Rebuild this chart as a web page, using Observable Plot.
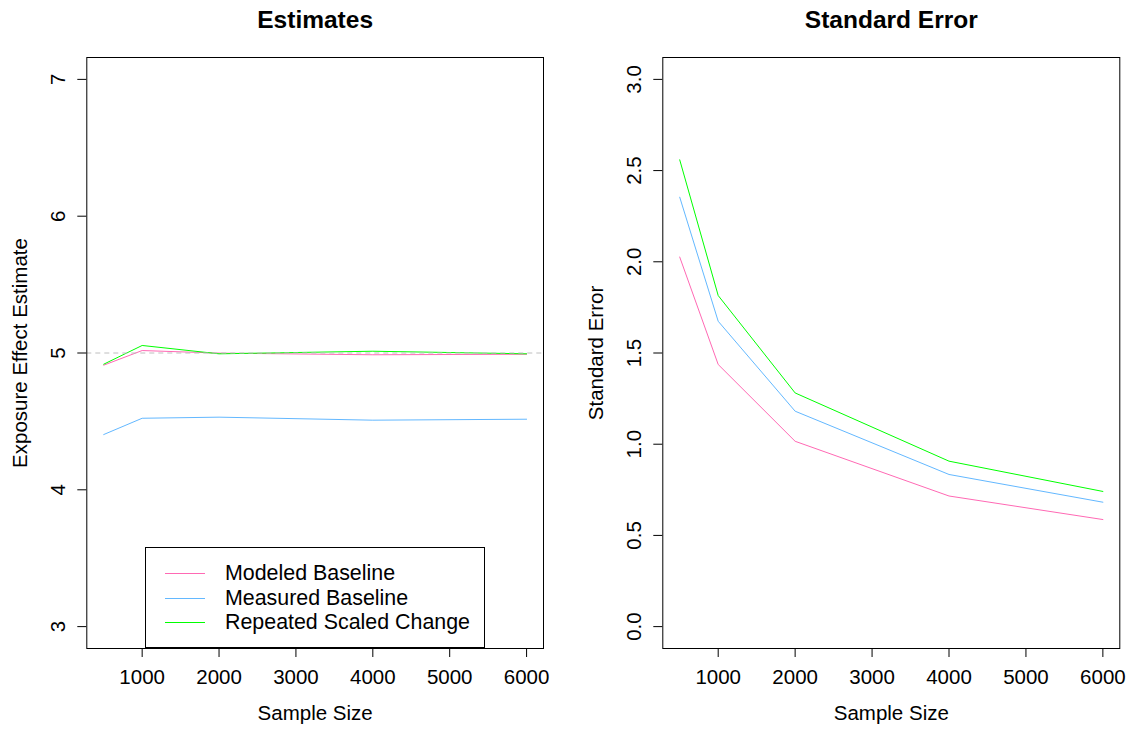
<!DOCTYPE html>
<html>
<head>
<meta charset="utf-8">
<script src="https://cdn.jsdelivr.net/npm/d3@7"></script>
<script src="https://cdn.jsdelivr.net/npm/@observablehq/plot@0.6"></script>
<style>
  body { margin: 0; background: white; }
  #wrap { position: relative; width: 1135px; height: 730px; font-family: "Liberation Sans", Arial, Helvetica, sans-serif; }
  #left, #right { position: absolute; top: 0; }
  #left { left: 0; }
  #right { left: 567px; }
  #legend { position: absolute; left: 145px; top: 547px; width: 340px; height: 101px; border: 1px solid black; background: white; box-sizing: border-box; }
  .row { position: absolute; left: 0; height: 25px; width: 100%; }
  .sw { position: absolute; left: 19px; width: 40px; top: 12px; border-top: 1px solid; }
  .lab { position: absolute; left: 79px; top: 0; font-size: 21.4px; line-height: 25px; color: black; white-space: nowrap; }
</style>
</head>
<body>
<div id="wrap">
  <div id="left"></div>
  <div id="right"></div>
  <div id="legend"></div>
</div>
<script>
const sampleSizes = [500, 1000, 2000, 4000, 6000];
const seriesNames = ["Modeled Baseline", "Measured Baseline", "Repeated Scaled Change"];
const seriesColors = ["#FF69B4", "#63B8FF", "#00FF00"];
const estModeled  = [4.911, 5.018, 4.999, 4.987, 4.991];
const estMeasured = [4.404, 4.523, 4.531, 4.509, 4.516];
const estRepeated = [4.918, 5.055, 4.994, 5.013, 4.994];
const seModeled   = [2.026, 1.437, 1.016, 0.716, 0.587];
const seMeasured  = [2.354, 1.674, 1.181, 0.834, 0.682];
const seRepeated  = [2.559, 1.815, 1.281, 0.907, 0.741];
const trueEffect = 5;
const xTicks = [1000, 2000, 3000, 4000, 5000, 6000];
const estTicks = [3, 4, 5, 6, 7];
const seTicks = [0, 0.5, 1, 1.5, 2, 2.5, 3];

function toRows(arrs) {
  const rows = [];
  arrs.forEach((arr, s) => arr.forEach((v, i) => rows.push({n: sampleSizes[i], v, series: seriesNames[s]})));
  return rows;
}
const estRows = toRows([estModeled, estMeasured, estRepeated]);
const seRows = toRows([seModeled, seMeasured, seRepeated]);

const FONT = "'Liberation Sans', Arial, Helvetica, sans-serif";

function panel({rows, title, ylabel, yDomain, yTicks, yFormat, width, marginLeft, marginRight, extra}) {
  return Plot.plot({
    width, height: 730,
    marginTop: 57, marginBottom: 82, marginLeft, marginRight,
    style: {fontFamily: FONT, fontSize: "20.5px", background: "white", color: "black", overflow: "visible"},
    x: {domain: [280, 6220]},
    y: {domain: yDomain},
    color: {domain: seriesNames, range: seriesColors},
    marks: [
      Plot.axisX({ticks: xTicks, tickSize: 9, tickPadding: 12, label: null, tickFormat: d => String(d)}),
      Plot.axisY({ticks: yTicks, tickSize: 9, tickPadding: 13, tickRotate: -90, textAnchor: "middle", lineAnchor: "bottom", label: null, tickFormat: yFormat}),
      Plot.line(rows, {x: "n", y: "v", z: "series", stroke: "series", strokeWidth: 1}),
      ...(extra || []),
      Plot.frame({stroke: "black", strokeWidth: 1}),
      Plot.text([title], {text: d => d, frameAnchor: "top", dy: -30, lineAnchor: "bottom", fontWeight: "bold", fontSize: 24.5}),
      Plot.text(["Sample Size"], {text: d => d, frameAnchor: "bottom", dy: 71.5, lineAnchor: "bottom", fontSize: 20.5}),
      Plot.text([ylabel], {text: d => d, frameAnchor: "left", dx: -59.5, rotate: -90, textAnchor: "middle", lineAnchor: "bottom", fontSize: 20.5})
    ]
  });
}

document.getElementById("left").append(panel({
  rows: estRows, title: "Estimates", ylabel: "Exposure Effect Estimate",
  yDomain: [2.84, 7.16], yTicks: estTicks, yFormat: d => String(d),
  width: 567, marginLeft: 86.3, marginRight: 24,
  extra: [Plot.ruleY([trueEffect], {stroke: "#BEBEBE", strokeDasharray: "5,4", strokeWidth: 1})]
}));

document.getElementById("right").append(panel({
  rows: seRows, title: "Standard Error", ylabel: "Standard Error",
  yDomain: [-0.12, 3.12], yTicks: seTicks, yFormat: d3.format(".1f"),
  width: 568, marginLeft: 95.3, marginRight: 15.7
}));

const legend = document.getElementById("legend");
const rowTops = [13, 38, 62];
seriesNames.forEach((name, i) => {
  const row = document.createElement("div");
  row.className = "row";
  row.style.top = rowTops[i] + "px";
  const sw = document.createElement("div");
  sw.className = "sw";
  sw.style.borderTopColor = seriesColors[i];
  const lab = document.createElement("div");
  lab.className = "lab";
  lab.textContent = name;
  row.append(sw, lab);
  legend.append(row);
});
</script>
</body>
</html>
